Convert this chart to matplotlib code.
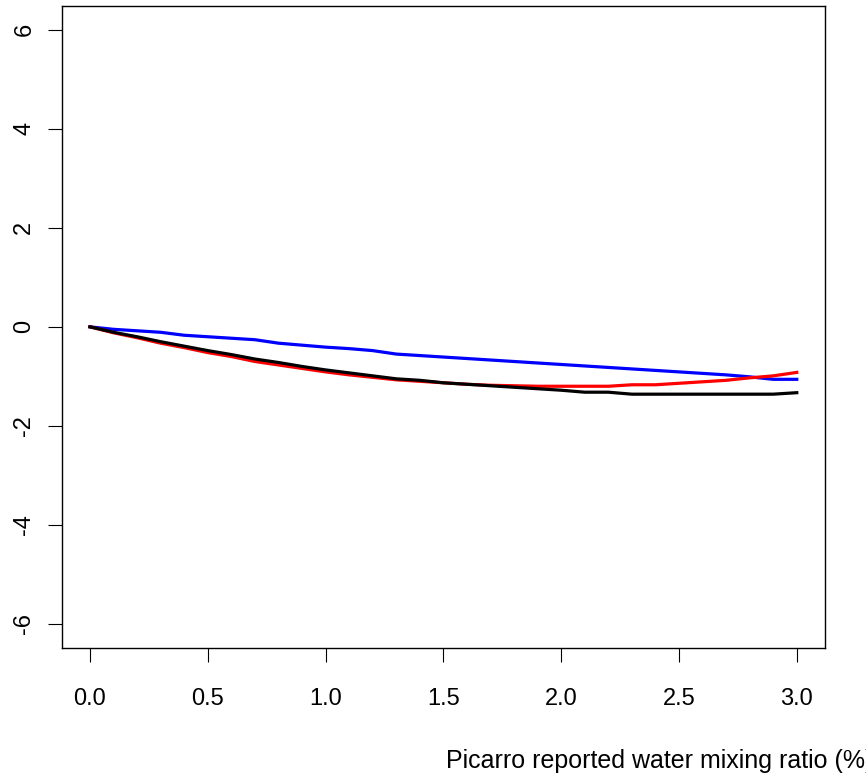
import numpy as np
import matplotlib
matplotlib.use("Agg")
import matplotlib.pyplot as plt

# water mixing ratio (%) and the three curves
water = np.round(np.arange(0, 31) * 0.1, 1)

blue_vals = [0.00, -0.05, -0.08, -0.11, -0.17, -0.20, -0.23, -0.26, -0.33, -0.37,
             -0.41, -0.44, -0.48, -0.55, -0.58, -0.61, -0.64, -0.67, -0.70, -0.73,
             -0.76, -0.79, -0.82, -0.85, -0.88, -0.91, -0.94, -0.97, -1.01, -1.06,
             -1.06]
red_vals = [0.00, -0.12, -0.22, -0.33, -0.42, -0.52, -0.60, -0.70, -0.77, -0.84,
            -0.91, -0.97, -1.02, -1.07, -1.10, -1.13, -1.16, -1.18, -1.19, -1.20,
            -1.20, -1.20, -1.20, -1.17, -1.17, -1.14, -1.11, -1.08, -1.03, -0.99,
            -0.92]
black_vals = [0.00, -0.11, -0.20, -0.30, -0.39, -0.48, -0.56, -0.65, -0.72, -0.80,
              -0.87, -0.93, -0.99, -1.05, -1.08, -1.13, -1.16, -1.19, -1.22, -1.25,
              -1.28, -1.32, -1.32, -1.36, -1.36, -1.36, -1.36, -1.36, -1.36, -1.36,
              -1.33]

xticks = [0.0, 0.5, 1.0, 1.5, 2.0, 2.5, 3.0]
yticks = [-6, -4, -2, 0, 2, 4, 6]
xlab = "Picarro reported water mixing ratio (%)"

plt.rcParams["font.family"] = ["Liberation Sans", "DejaVu Sans"]

fig = plt.figure(figsize=(8.66, 7.78), dpi=100)
ax = fig.add_axes([0.0712, 0.1675, 0.8815, 0.8248])

ax.plot(water, blue_vals, color="blue", lw=2.3)
ax.plot(water, red_vals, color="red", lw=2.3)
ax.plot(water, black_vals, color="black", lw=2.3)

ax.set_xlim(-0.12, 3.12)
ax.set_ylim(-6.48, 6.48)
ax.set_xticks(xticks)
ax.set_xticklabels([f"{v:.1f}" for v in xticks])
ax.set_yticks(yticks)
ax.set_yticklabels([str(v) for v in yticks], rotation=90, va="center")
ax.tick_params(axis="both", length=10, width=0.8, labelsize=17, direction="out")
ax.tick_params(axis="x", pad=19)
ax.tick_params(axis="y", pad=9)
for s in ax.spines.values():
    s.set_linewidth(1.0)

# label starts mid-figure and runs off the right edge, as in the original
fig.text(446 / 866, 1 - 767.7 / 778, xlab, ha="left", va="baseline", fontsize=18)

fig.savefig("out.png", dpi=100)
